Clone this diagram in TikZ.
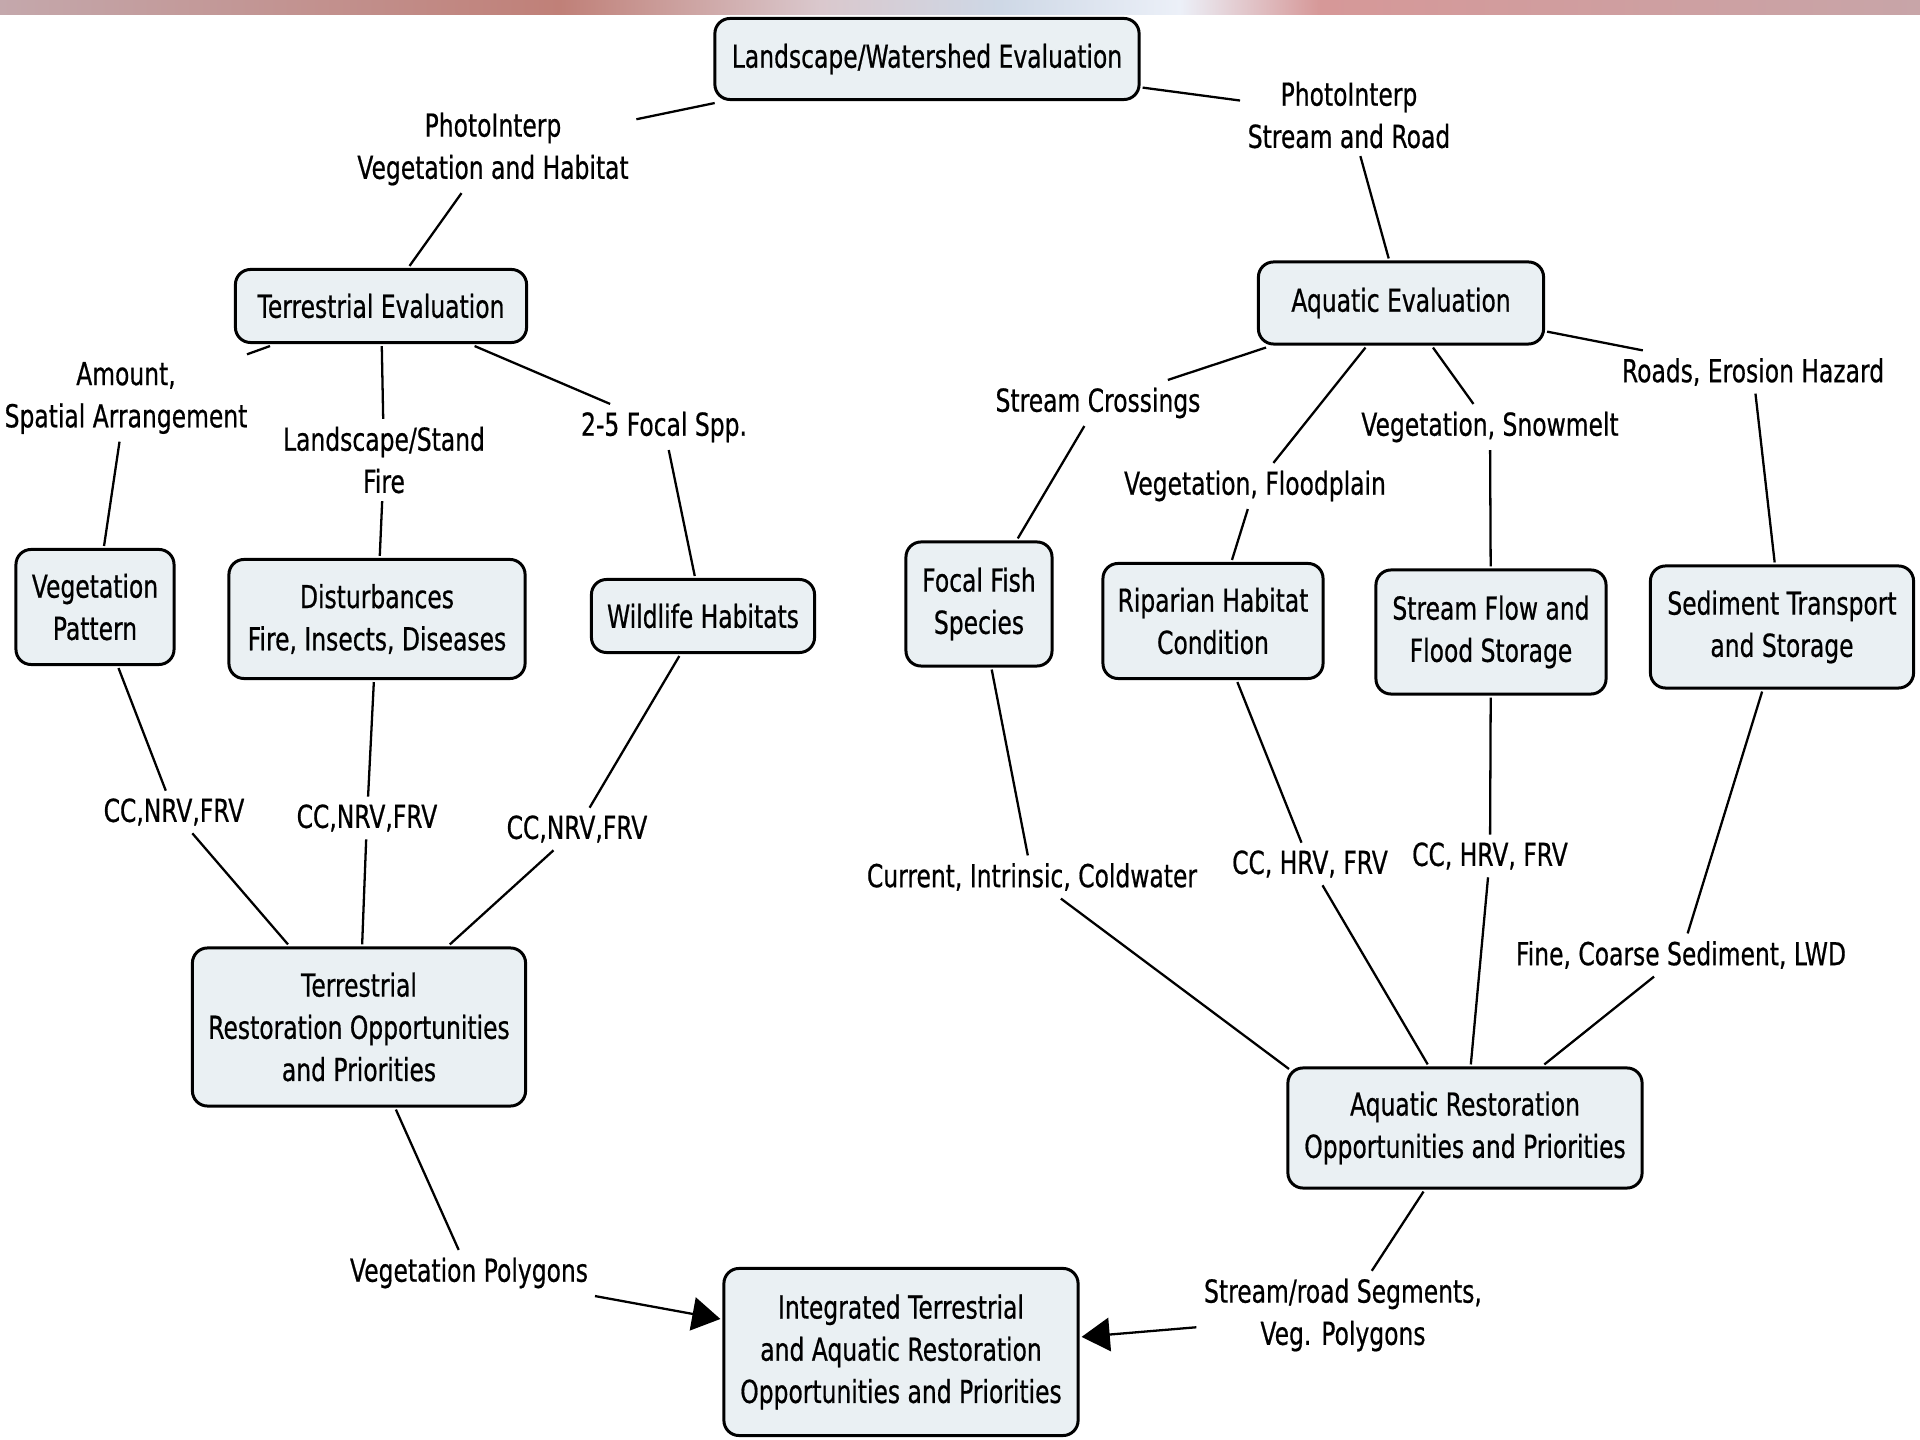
\documentclass[tikz,border=0pt]{standalone}
\usepackage{fontspec}
\setmainfont{DejaVu Sans}[FakeStretch=0.74, FakeBold=0.6]
\usetikzlibrary{arrows.meta}
\definecolor{boxfill}{RGB}{234,240,243}
\definecolor{bandA}{RGB}{196,168,172}
\definecolor{bandB}{RGB}{192,128,120}
\definecolor{bandC}{RGB}{218,200,205}
\definecolor{bandD}{RGB}{206,216,230}
\definecolor{bandE}{RGB}{236,240,248}
\definecolor{bandF}{RGB}{214,152,152}
\tikzset{
  box/.style={draw=black, line width=0.85pt, fill=boxfill, rounded corners=4.3pt,
    align=center, font=\fontsize{9}{12}\selectfont, inner sep=0pt, outer sep=1pt},
  lbl/.style={align=center, font=\fontsize{9}{12}\selectfont, inner sep=2pt},
  conn/.style={line width=0.65pt},
  arr/.style={line width=0.65pt, -{Triangle[length=8pt, width=9.5pt]}},
}
\begin{document}
\begin{tikzpicture}[x=0.01cm, y=-0.01cm]
\useasboundingbox (0,0) rectangle (1920,1440);
% blurred photo band at top
\shade[left color=bandA, right color=bandB] (0,0) rectangle (560,15);
\shade[left color=bandB, right color=bandC] (560,0) rectangle (820,15);
\shade[left color=bandC, right color=bandD] (820,0) rectangle (1000,15);
\shade[left color=bandD, right color=bandE] (1000,0) rectangle (1180,15);
\shade[left color=bandE, right color=bandF] (1180,0) rectangle (1320,15);
\shade[left color=bandF, right color=bandA!80!bandF] (1320,0) rectangle (1920,15);

% concept boxes
\node[box, minimum width=4.24cm, minimum height=0.81cm] (top) at (927,59) {Landscape/Watershed Evaluation};
\node[box, minimum width=2.91cm, minimum height=0.73cm] (terr) at (381,306) {Terrestrial Evaluation};
\node[box, minimum width=2.85cm, minimum height=0.82cm] (aq) at (1401,303) {Aquatic Evaluation};
\node[box, minimum width=1.58cm, minimum height=1.15cm] (vegpat) at (95,607) {Vegetation\\Pattern};
\node[box, minimum width=2.96cm, minimum height=1.19cm] (dist) at (377,619) {Disturbances\\Fire, Insects, Diseases};
\node[box, minimum width=2.23cm, minimum height=0.73cm] (wild) at (703,616) {Wildlife Habitats};
\node[box, minimum width=1.46cm, minimum height=1.24cm] (fish) at (979,604) {Focal Fish\\Species};
\node[box, minimum width=2.20cm, minimum height=1.15cm] (rip) at (1213,621) {Riparian Habitat\\Condition};
\node[box, minimum width=2.30cm, minimum height=1.24cm] (flow) at (1491,632) {Stream Flow and\\Flood Storage};
\node[box, minimum width=2.63cm, minimum height=1.22cm] (sed) at (1782,627) {Sediment Transport\\and Storage};
\node[box, minimum width=3.33cm, minimum height=1.58cm] (trest) at (359,1027) {Terrestrial\\Restoration Opportunities\\and Priorities};
\node[box, minimum width=3.54cm, minimum height=1.20cm] (arest) at (1465,1128) {Aquatic Restoration\\Opportunities and Priorities};
\node[box, minimum width=3.54cm, minimum height=1.67cm] (integ) at (901,1352) {Integrated Terrestrial\\and Aquatic Restoration\\Opportunities and Priorities};
\coordinate (arestIn) at (1289,1069);

% linking phrases
\node[lbl] (lPV) at (493,149) {PhotoInterp\\Vegetation and Habitat};
\node[lbl] (lPS) at (1349,115) {PhotoInterp\\Stream and Road};
\node[lbl] (lAm) at (126,398) {Amount,\\Spatial Arrangement};
\node[lbl] (lLS) at (384,460) {Landscape/Stand\\Fire};
\node[lbl] (lFS) at (664,427) {2-5 Focal Spp.};
\node[lbl] (lSC) at (1098,403) {Stream Crossings};
\node[lbl] (lVF) at (1255,486) {Vegetation, Floodplain};
\node[lbl] (lVS) at (1490,427) {Vegetation, Snowmelt};
\node[lbl] (lRE) at (1753,372) {Roads, Erosion Hazard};
\node[lbl] (c1) at (174,812) {CC,NRV,FRV};
\node[lbl] (c2) at (367,818) {CC,NRV,FRV};
\node[lbl] (c3) at (577,829) {CC,NRV,FRV};
\node[lbl] (lCur) at (1032,877) {Current, Intrinsic, Coldwater};
\node[lbl] (c4) at (1310,864) {CC, HRV, FRV};
\node[lbl] (c5) at (1490,856) {CC, HRV, FRV};
\node[lbl] (lFine) at (1681,955) {Fine, Coarse Sediment, LWD};
\node[lbl] (lVP) at (469,1273) {Vegetation Polygons};
\node[lbl] (lSR) at (1343,1315) {Stream/road Segments,\\Veg. Polygons};

% connectors
\draw[conn] (top) -- (lPV);  \draw[conn] (lPV) -- (terr);
\draw[conn] (top) -- (lPS);  \draw[conn] (lPS) -- (aq);
\draw[conn] (terr) -- (lAm); \draw[conn] (lAm) -- (vegpat);
\draw[conn] (terr) -- (lLS); \draw[conn] (lLS) -- (dist);
\draw[conn] (terr) -- (lFS); \draw[conn] (lFS) -- (wild);
\draw[conn] (aq) -- (lSC);   \draw[conn] (lSC) -- (fish);
\draw[conn] (aq) -- (lVF);   \draw[conn] (lVF) -- (rip);
\draw[conn] (aq) -- (lVS);   \draw[conn] (lVS) -- (flow);
\draw[conn] (aq) -- (lRE);   \draw[conn] (lRE) -- (sed);
\draw[conn] (vegpat) -- (c1); \draw[conn] (c1) -- (trest);
\draw[conn] (dist) -- (c2);   \draw[conn] (c2) -- (trest);
\draw[conn] (wild) -- (c3);   \draw[conn] (c3) -- (trest);
\draw[conn] (fish) -- (lCur); \draw[conn] (lCur) -- (arestIn);
\draw[conn] (rip) -- (c4);    \draw[conn] (c4) -- (arest);
\draw[conn] (flow) -- (c5);   \draw[conn] (c5) -- (arest);
\draw[conn] (sed) -- (lFine); \draw[conn] (lFine) -- (arest);
\draw[conn] (trest) -- (lVP); \draw[arr] (lVP) -- (integ);
\draw[conn] (arest) -- (lSR); \draw[arr] (lSR) -- (integ);
\end{tikzpicture}
\end{document}
